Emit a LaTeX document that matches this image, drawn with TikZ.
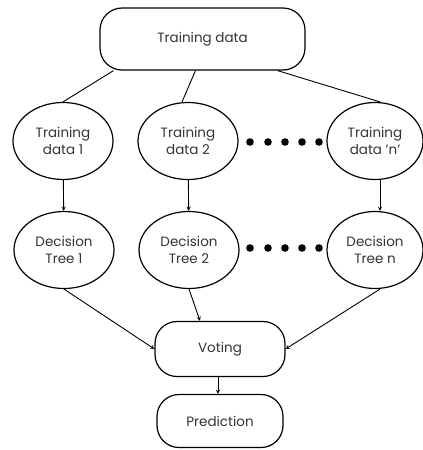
\documentclass[tikz,border=0pt]{standalone}
\usepackage{fontspec}
\setmainfont{Poppins}
\usetikzlibrary{shapes.geometric}
\tikzset{
  rbox/.style={draw,line width=1.2pt,rounded corners=22pt,align=center,text=black!80,font=\fontsize{13.5}{15}\selectfont},
  oval/.style={draw,ellipse,line width=1.2pt,inner sep=0pt,minimum width=100pt,minimum height=77pt,align=center,text=black!80,font=\fontsize{13.5}{17}\selectfont},
  link/.style={line width=0.9pt},
  arr/.style={line width=0.9pt,-stealth}
}
\begin{document}
\begin{tikzpicture}[x=1pt,y=-1pt]
  \useasboundingbox (0,0) rectangle (423,450);
  \node[rbox,minimum width=205pt,minimum height=62pt] (data) at (202.5,39) {Training data};
  \node[oval] (t1) at (63,141) {Training\\data 1};
  \node[oval] (t2) at (188,141) {Training\\data 2};
  \node[oval,minimum width=96pt] (tn) at (375,141) {Training\\data 'n'};
  \node[oval] (d1) at (64,250) {Decision\\Tree 1};
  \node[oval] (d2) at (189,250) {Decision\\Tree 2};
  \node[oval,minimum width=96pt] (dn) at (375,250) {Decision\\Tree n};
  \node[rbox,minimum width=130pt,minimum height=55pt] (vote) at (220,349) {Voting};
  \node[rbox,minimum width=126pt,minimum height=53pt] (pred) at (220,421) {Prediction};

  \path[link]
    ([xshift=-89pt]data.south) edge (t1.north)
    ([xshift=-7pt]data.south) edge ([xshift=-6pt]t2.north)
    ([xshift=75pt]data.south) edge ([xshift=5pt]tn.north);

  \path[arr]
    (t1) edge (d1)
    (t2) edge (d2)
    ([xshift=5pt]tn.south) edge ([xshift=5pt]dn.north)
    (d1.south) edge (vote.west)
    (d2.south) edge ([xshift=-20pt]vote.north)
    ([xshift=5pt]dn.south) edge (vote.east)
    ([xshift=-2pt]vote.south) edge ([xshift=-2pt]pred.north);

  \fill (250,142) circle (3.8pt) (268,142) circle (3.8pt) (285,142) circle (3.8pt)
        (302,142) circle (3.8pt) (319,142) circle (3.8pt);
  \fill (250,248) circle (3.8pt) (268,248) circle (3.8pt) (285,248) circle (3.8pt)
        (302,248) circle (3.8pt) (319,248) circle (3.8pt);
\end{tikzpicture}
\end{document}
